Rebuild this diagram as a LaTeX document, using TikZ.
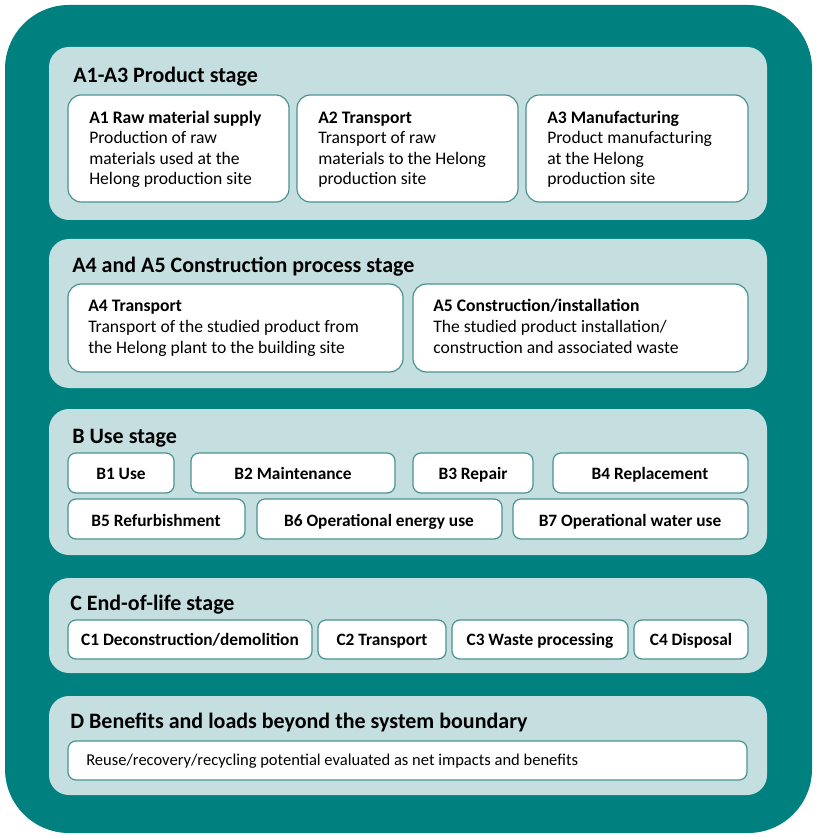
\documentclass[tikz,border=0pt]{standalone}
\usepackage{fontspec}
\setmainfont{Carlito}
\usetikzlibrary{positioning}
\definecolor{outerteal}{RGB}{0,128,127}
\definecolor{panelfill}{RGB}{197,223,224}
\definecolor{boxedge}{RGB}{74,146,148}

\begin{document}
\begin{tikzpicture}[x=0.75pt,y=0.75pt,yscale=-1,
  stagepanel/.style={fill=panelfill,draw=none,rounded corners=15pt},
  modbox/.style={fill=white,draw=boxedge,line width=0.9pt,rounded corners=10pt},
  smallbox/.style={fill=white,draw=boxedge,line width=0.9pt,rounded corners=6pt},
  stagetitle/.style={anchor=base west,inner sep=0pt,font=\fontsize{16.5}{19}\selectfont\bfseries},
  boxtext/.style={anchor=base west,inner sep=0pt,align=left,font=\fontsize{13.2}{15.4}\selectfont},
  boxlabel/.style={anchor=base,inner sep=0pt,font=\fontsize{13}{15.4}\selectfont\bfseries},
  notetext/.style={anchor=base west,inner sep=0pt,font=\fontsize{12.4}{14}\selectfont}]
%set diagram left start at 0, and has height of 837
\path (0,0) rectangle (822,837);

%Shape: Rounded Rect [id:outer]
\draw [fill=outerteal,draw=none,rounded corners=48pt] (5,5) rectangle (812,833);

%Shape: Rounded Rect [id:panelA13]
\draw [stagepanel] (49,47) rectangle (767,220);
%Shape: Rounded Rect [id:panelA45]
\draw [stagepanel] (49,239) rectangle (767,388);
%Shape: Rounded Rect [id:panelB]
\draw [stagepanel] (49,409) rectangle (767,555);
%Shape: Rounded Rect [id:panelC]
\draw [stagepanel] (49,578) rectangle (767,673);
%Shape: Rounded Rect [id:panelD]
\draw [stagepanel] (49,696) rectangle (767,795);

%Shape: Rounded Rect [id:boxA1]
\draw [modbox] (68,95) rectangle (289,202);
%Shape: Rounded Rect [id:boxA2]
\draw [modbox] (297,95) rectangle (518,202);
%Shape: Rounded Rect [id:boxA3]
\draw [modbox] (526,95) rectangle (748,202);
%Shape: Rounded Rect [id:boxA4]
\draw [modbox] (68,284) rectangle (403,372);
%Shape: Rounded Rect [id:boxA5]
\draw [modbox] (413,284) rectangle (748,372);

%Shape: Rounded Rect [id:boxB1]
\draw [smallbox] (68,453) rectangle (174,493);
%Shape: Rounded Rect [id:boxB2]
\draw [smallbox] (191,453) rectangle (395,493);
%Shape: Rounded Rect [id:boxB3]
\draw [smallbox] (413,453) rectangle (533,493);
%Shape: Rounded Rect [id:boxB4]
\draw [smallbox] (553,453) rectangle (748,493);
%Shape: Rounded Rect [id:boxB5]
\draw [smallbox] (68,499) rectangle (245,539);
%Shape: Rounded Rect [id:boxB6]
\draw [smallbox] (257,499) rectangle (502,539);
%Shape: Rounded Rect [id:boxB7]
\draw [smallbox] (513,499) rectangle (748,539);

%Shape: Rounded Rect [id:boxC1]
\draw [smallbox] (68,620) rectangle (312,659);
%Shape: Rounded Rect [id:boxC2]
\draw [smallbox] (318,620) rectangle (446,659);
%Shape: Rounded Rect [id:boxC3]
\draw [smallbox] (452,620) rectangle (628,659);
%Shape: Rounded Rect [id:boxC4]
\draw [smallbox] (634,620) rectangle (748,659);

%Shape: Rounded Rect [id:boxD]
\draw [smallbox] (68,741) rectangle (747,780);

% Text Node
\node [stagetitle] (titleA13) at (73,83) {A1-A3 Product stage};
% Text Node
\node [stagetitle] (titleA45) at (72,273) {A4 and A5 Construction process stage};
% Text Node
\node [stagetitle] (titleB) at (72,443) {B Use stage};
% Text Node
\node [stagetitle] (titleC) at (70,610) {C End-of-life stage};
% Text Node
\node [stagetitle] (titleD) at (70,728) {D Benefits and loads beyond the system boundary};

% Text Node (anchored at the last line)
\node [boxtext] (textA1) at (89,185) {\textbf{A1 Raw material supply}\\Production of raw\\materials used at the\\Helong production site};
% Text Node
\node [boxtext] (textA2) at (318,185) {\textbf{A2 Transport}\\Transport of raw\\materials to the Helong\\production site};
% Text Node
\node [boxtext] (textA3) at (547,185) {\textbf{A3 Manufacturing}\\Product manufacturing\\at the Helong\\production site};
% Text Node
\node [boxtext] (textA4) at (88,353) {\textbf{A4 Transport}\\Transport of the studied product from\\the Helong plant to the building site};
% Text Node
\node [boxtext] (textA5) at (433,353) {\textbf{A5 Construction/installation}\\The studied product installation/\\construction and associated waste};

% Text Node
\node [boxlabel] (labelB1) at (121,479) {B1 Use};
% Text Node
\node [boxlabel] (labelB2) at (293,479) {B2 Maintenance};
% Text Node
\node [boxlabel] (labelB3) at (473,479) {B3 Repair};
% Text Node
\node [boxlabel] (labelB4) at (650,479) {B4 Replacement};
% Text Node
\node [boxlabel] (labelB5) at (156,526) {B5 Refurbishment};
% Text Node
\node [boxlabel] (labelB6) at (379,526) {B6 Operational energy use};
% Text Node
\node [boxlabel] (labelB7) at (630,526) {B7 Operational water use};

% Text Node
\node [boxlabel] (labelC1) at (190,645) {C1 Deconstruction/demolition};
% Text Node
\node [boxlabel] (labelC2) at (382,645) {C2 Transport};
% Text Node
\node [boxlabel] (labelC3) at (540,645) {C3 Waste processing};
% Text Node
\node [boxlabel] (labelC4) at (691,645) {C4 Disposal};

% Text Node
\node [notetext] (textD) at (86,765) {Reuse/recovery/recycling potential evaluated as net impacts and benefits};

\end{tikzpicture}
\end{document}
